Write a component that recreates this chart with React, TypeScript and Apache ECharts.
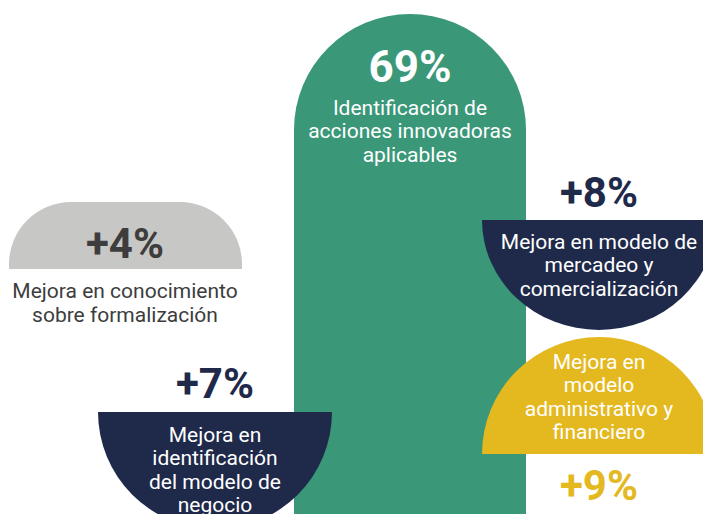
import React, { useEffect, useRef } from "react";
import * as echarts from "echarts";

// ---- data ----
const percentValues = [69, 4, 7, 8, 9];
const percentLabels = ["69%", "+4%", "+7%", "+8%", "+9%"];
const categories = [
  "Identificación de\nacciones innovadoras\naplicables",
  "Mejora en conocimiento\nsobre formalización",
  "Mejora en\nidentificación\ndel modelo de\nnegocio",
  "Mejora en modelo de\nmercadeo y\ncomercialización",
  "Mejora en\nmodelo\nadministrativo y\nfinanciero",
];

// ---- layout & style (kept apart from the data) ----
const GREEN = "#3a9878";
const NAVY = "#1f294a";
const GRAY = "#c7c7c5";
const DARK = "#3d3d3d";
const YELLOW = "#e4b81f";

type Layout = {
  kind: "roundRect" | "halfDown" | "halfUp";
  x?: number; y?: number; w?: number; h?: number; r?: number;
  cx: number; cy?: number; rx?: number; ry?: number;
  fill: string;
  valueY: number; valueColor: string; valueSize: number;
  labelY: number; labelColor: string;
};

const layouts: Layout[] = [
  { kind: "roundRect", x: 294, y: 14, w: 232, h: 520, r: 116, cx: 410, fill: GREEN,
    valueY: 67, valueColor: "#ffffff", valueSize: 44, labelY: 131, labelColor: "#ffffff" },
  { kind: "roundRect", x: 9, y: 202, w: 233, h: 67, r: 62, cx: 125, fill: GRAY,
    valueY: 243, valueColor: DARK, valueSize: 42, labelY: 303, labelColor: DARK },
  { kind: "halfDown", cx: 215, cy: 412, rx: 117, ry: 117, fill: NAVY,
    valueY: 383, valueColor: NAVY, valueSize: 42, labelY: 470, labelColor: "#ffffff" },
  { kind: "halfDown", cx: 599, cy: 220, rx: 117, ry: 110, fill: NAVY,
    valueY: 192, valueColor: NAVY, valueSize: 42, labelY: 265, labelColor: "#ffffff" },
  { kind: "halfUp", cx: 599, cy: 454, rx: 117, ry: 117, fill: YELLOW,
    valueY: 485, valueColor: YELLOW, valueSize: 42, labelY: 397, labelColor: "#ffffff" },
];

const W = 703;
const H = 514;

export default function App() {
  const ref = useRef<HTMLDivElement>(null);

  useEffect(() => {
    if (!ref.current) return;
    const chart = echarts.init(ref.current, null, { renderer: "svg" });

    const renderItem = (params: any, api: any) => {
      const i = params.dataIndex;
      const L = layouts[i];
      const children: any[] = [];
      if (L.kind === "roundRect") {
        const p0 = api.coord([L.x!, L.y!]);
        const p1 = api.coord([L.x! + L.w!, L.y! + L.h!]);
        children.push({
          type: "rect",
          shape: { x: p0[0], y: p0[1], width: p1[0] - p0[0], height: p1[1] - p0[1], r: [L.r!, L.r!, 0, 0] },
          style: { fill: L.fill },
        });
      } else {
        const c = api.coord([L.cx, L.cy!]);
        const rxPx = api.size([L.rx!, 0])[0];
        const ryPx = api.size([0, L.ry!])[1];
        const down = L.kind === "halfDown";
        children.push({
          type: "sector",
          x: c[0],
          y: c[1],
          scaleY: ryPx / rxPx,
          shape: {
            cx: 0, cy: 0, r0: 0, r: rxPx,
            startAngle: down ? 0 : Math.PI,
            endAngle: down ? Math.PI : Math.PI * 2,
            clockwise: true,
          },
          style: { fill: L.fill },
        });
      }
      const vp = api.coord([L.cx, L.valueY]);
      children.push({
        type: "text",
        style: {
          text: percentLabels[i],
          x: vp[0], y: vp[1],
          fill: L.valueColor,
          fontFamily: "Roboto",
          fontWeight: "bold",
          fontSize: L.valueSize,
          align: "center",
          verticalAlign: "middle",
        },
      });
      const lp = api.coord([L.cx, L.labelY]);
      children.push({
        type: "text",
        style: {
          text: categories[i],
          x: lp[0], y: lp[1],
          fill: L.labelColor,
          fontFamily: "Roboto",
          fontSize: 21,
          lineHeight: 23.5,
          align: "center",
          verticalAlign: "middle",
        },
      });
      return { type: "group", children };
    };

    chart.setOption({
      animation: false,
      backgroundColor: "#ffffff",
      grid: { left: 0, right: 0, top: 0, bottom: 0 },
      xAxis: { type: "value", min: 0, max: W, show: false },
      yAxis: { type: "value", min: 0, max: H, inverse: true, show: false },
      series: [
        {
          type: "custom",
          silent: true,
          clip: false,
          renderItem,
          data: percentValues.map((v, i) => [i, v]),
        },
      ],
    });

    return () => chart.dispose();
  }, []);

  return (
    <div
      ref={ref}
      style={{ position: "absolute", left: 0, top: 0, width: W, height: H }}
    />
  );
}
